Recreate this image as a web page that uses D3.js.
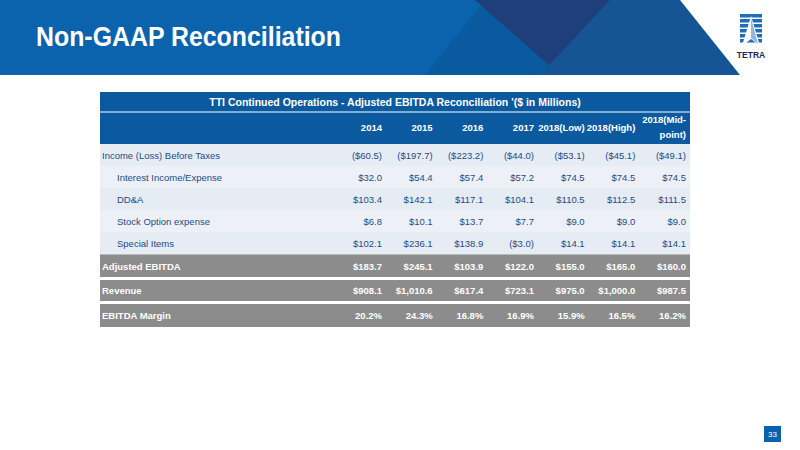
<!DOCTYPE html>
<html><head><meta charset="utf-8">
<script src="https://cdn.jsdelivr.net/npm/d3@7"></script>
<style>body{margin:0;background:#fff}svg{display:block;font-family:"Liberation Sans",Arial,sans-serif}</style>
</head><body><svg id="c" width="800" height="450"></svg>
<script>
const columns = ['2014','2015','2016','2017','2018(Low)','2018(High)','2018(Mid-|point)'];
const rowLabels = ['Income (Loss) Before Taxes','Interest Income/Expense','DD&A','Stock Option expense','Special Items','Adjusted EBITDA','Revenue','EBITDA Margin'];
const incomeBeforeTaxes = ['($60.5)','($197.7)','($223.2)','($44.0)','($53.1)','($45.1)','($49.1)'];
const interest = ['$32.0','$54.4','$57.4','$57.2','$74.5','$74.5','$74.5'];
const dda = ['$103.4','$142.1','$117.1','$104.1','$110.5','$112.5','$111.5'];
const stockOption = ['$6.8','$10.1','$13.7','$7.7','$9.0','$9.0','$9.0'];
const specialItems = ['$102.1','$236.1','$138.9','($3.0)','$14.1','$14.1','$14.1'];
const adjEbitda = ['$183.7','$245.1','$103.9','$122.0','$155.0','$165.0','$160.0'];
const revenue = ['$908.1','$1,010.6','$617.4','$723.1','$975.0','$1,000.0','$987.5'];
const margin = ['20.2%','24.3%','16.8%','16.9%','15.9%','16.5%','16.2%'];
const rows = [incomeBeforeTaxes, interest, dda, stockOption, specialItems, adjEbitda, revenue, margin];

const svg = d3.select('#c');

// header band
svg.append('rect').attr('width',800).attr('height',75).attr('fill','#0b63ad');
svg.append('path').attr('d','M485,0 L640,0 L560,75 L425,75 Z').attr('fill','#0a5aa0');
svg.append('path').attr('d','M475,0 L650,0 L560,75 Z').attr('fill','#1f3f7a');
svg.append('path').attr('d','M610,0 L680,0 L740,75 L540,75 Z').attr('fill','#155596');
svg.append('path').attr('d','M680,0 L800,0 L800,75 L740,75 Z').attr('fill','#fff');
svg.append('text').attr('x',36).attr('y',46).attr('fill','#fff')
  .attr('font-size',27).attr('font-weight','bold')
  .attr('textLength',305).attr('lengthAdjust','spacingAndGlyphs').text('Non-GAAP Reconciliation');
// logo
const logo = svg.append('g').attr('transform','translate(740,14)');
for (let i = 0; i < 6; i++) logo.append('rect').attr('x',0).attr('y',i*5).attr('width',22).attr('height',3.5).attr('fill','#1f6fb8');
logo.append('path').attr('d','M11,2 L20,32 L11,25 L2,32 Z').attr('fill','#fff');
logo.append('path').attr('d','M11,4 L18,30 L11,24 Z').attr('fill','#8fb8e0');
logo.append('text').attr('x',11).attr('y',44).attr('text-anchor','middle').attr('font-size',8.5)
  .attr('font-weight','bold').attr('fill','#1a2a55').text('TETRA');

// table
const x0 = 100, x1 = 690;
const colX = d3.scalePoint().domain(columns).range([382, 686]);
svg.append('rect').attr('x',x0).attr('y',92).attr('width',x1-x0).attr('height',52).attr('fill','#0b5aa0');
svg.append('line').attr('x1',x0).attr('x2',x1).attr('y1',112).attr('y2',112).attr('stroke','#fff').attr('stroke-width',1);
svg.append('text').attr('x',(x0+x1)/2).attr('y',106).attr('text-anchor','middle').attr('fill','#fff')
  .attr('font-size',10.5).attr('font-weight','bold').text("TTI Continued Operations - Adjusted EBITDA Reconciliation '($ in Millions)");
columns.forEach(c => {
  const parts = c.split('|');
  parts.forEach((p, i) => svg.append('text').attr('x',colX(c)).attr('y', parts.length>1 ? 123+i*15 : 131)
    .attr('text-anchor','end').attr('fill','#fff').attr('font-size',9.5).attr('font-weight','bold').text(p));
});

const rowY = [144,166,188,210,232,255,280,304];
const rowH = [22,22,22,22,22,22,21,23];
rows.forEach((vals, r) => {
  const total = r >= 5;
  const y = rowY[r], h = rowH[r];
  svg.append('rect').attr('x',x0).attr('y',y).attr('width',x1-x0).attr('height',h)
    .attr('fill', total ? '#8c8c8c' : (r % 2 === 0 ? '#e6ecf4' : '#edf1f7'));
  const col = total ? '#fff' : '#1f4a86';
  svg.append('text').attr('x', r >= 1 && r <= 4 ? 117 : 102).attr('y', y+h/2+3.5)
    .attr('fill',col).attr('font-size',9.5).attr('font-weight', total ? 'bold' : 'normal').text(rowLabels[r]);
  vals.forEach((v, i) => svg.append('text').attr('x',colX(columns[i])).attr('y',y+h/2+3.5)
    .attr('text-anchor','end').attr('fill',col).attr('font-size',9.5).attr('font-weight', total ? 'bold' : 'normal').text(v));
});
svg.append('line').attr('x1',x0).attr('x2',x1).attr('y1',254.5).attr('y2',254.5).attr('stroke','#bbb');

// page number
svg.append('rect').attr('x',764).attr('y',426).attr('width',17).attr('height',16).attr('fill','#0b63ad');
svg.append('text').attr('x',772.5).attr('y',437).attr('text-anchor','middle').attr('fill','#fff').attr('font-size',8).text('33');
</script></body></html>
